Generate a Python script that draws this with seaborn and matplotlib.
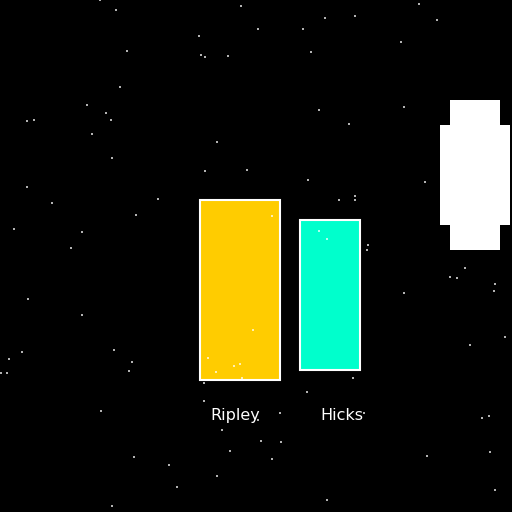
import numpy as np
import pandas as pd
import matplotlib
matplotlib.use("Agg")
import matplotlib.pyplot as plt
import matplotlib.patches as mpatches
import seaborn as sns

# data
names = ["Ripley", "Hicks"]
values = [180, 150]
bar_colors = ["#FFCC00", "#00FFCC"]

star_x = [100, 116, 241, 199, 127, 201, 205, 228, 120, 87, 106, 27, 34, 111, 92, 112,
          217, 205, 247, 27, 52, 158, 136, 14, 82, 71,
          419, 325, 355, 437, 258, 303, 401, 311, 319, 404, 349, 308, 425, 355, 339, 355,
          272, 319, 327, 368, 367,
          28, 82, 22, 9, 114, 132, 129, 1, 7, 101, 204, 204, 222, 230, 217, 134, 169, 177,
          112, 208, 216, 234, 240, 242, 253,
          465, 450, 457, 495, 494, 404, 505, 470, 353, 307, 280, 258, 364, 482, 489, 261,
          281, 272, 427, 490, 495, 327]
star_y = [0, 10, 6, 36, 51, 55, 57, 56, 87, 105, 113, 121, 120, 120, 134, 158,
          142, 171, 170, 187, 203, 199, 215, 229, 232, 248,
          4, 18, 16, 20, 29, 29, 42, 52, 110, 107, 124, 180, 182, 196, 200, 200,
          216, 231, 239, 245, 250,
          299, 315, 352, 359, 350, 362, 371, 373, 373, 411, 383, 401, 430, 451, 476, 457, 465, 487,
          506, 358, 372, 366, 364, 378, 330,
          268, 277, 278, 284, 291, 293, 337, 345, 378, 392, 413, 420, 413, 418, 416, 441,
          442, 459, 456, 452, 490, 500]

# layout (pixel space, y down)
bar_left = [200, 300]
bar_top = [200, 220]
bar_width = [80, 60]
label_x = [210, 320]
label_y = 420

sns.set_theme(style="dark", rc={"axes.facecolor": "black", "figure.facecolor": "black"})
plt.rcParams["font.family"] = ["DejaVu Sans"]

fig = plt.figure(figsize=(5.12, 5.12), dpi=100)
ax = fig.add_axes([0, 0, 1, 1])
ax.set_xlim(0, 512)
ax.set_ylim(512, 0)
ax.axis("off")

ax.bar(bar_left, values, width=bar_width, bottom=bar_top, align="edge",
       color=bar_colors, edgecolor="white", linewidth=1.5, zorder=2)

# white figure on the right
ax.add_patch(mpatches.Rectangle((450, 100), 50, 150, facecolor="white", edgecolor="none", zorder=2))
ax.add_patch(mpatches.Rectangle((440, 125), 70, 100, facecolor="white", edgecolor="none", zorder=2))

stars = pd.DataFrame({"x": star_x, "y": star_y})
sns.scatterplot(data=stars, x="x", y="y", ax=ax, marker="s", s=1.2, color="white",
                alpha=0.7, linewidth=0, zorder=3, legend=False)
ax.set_xlim(0, 512)
ax.set_ylim(512, 0)
ax.axis("off")

for name, lx in zip(names, label_x):
    ax.text(lx, label_y, name, color="white", fontsize=11.5, ha="left", va="baseline", zorder=4)

fig.savefig("out.png", dpi=100, facecolor="black")
